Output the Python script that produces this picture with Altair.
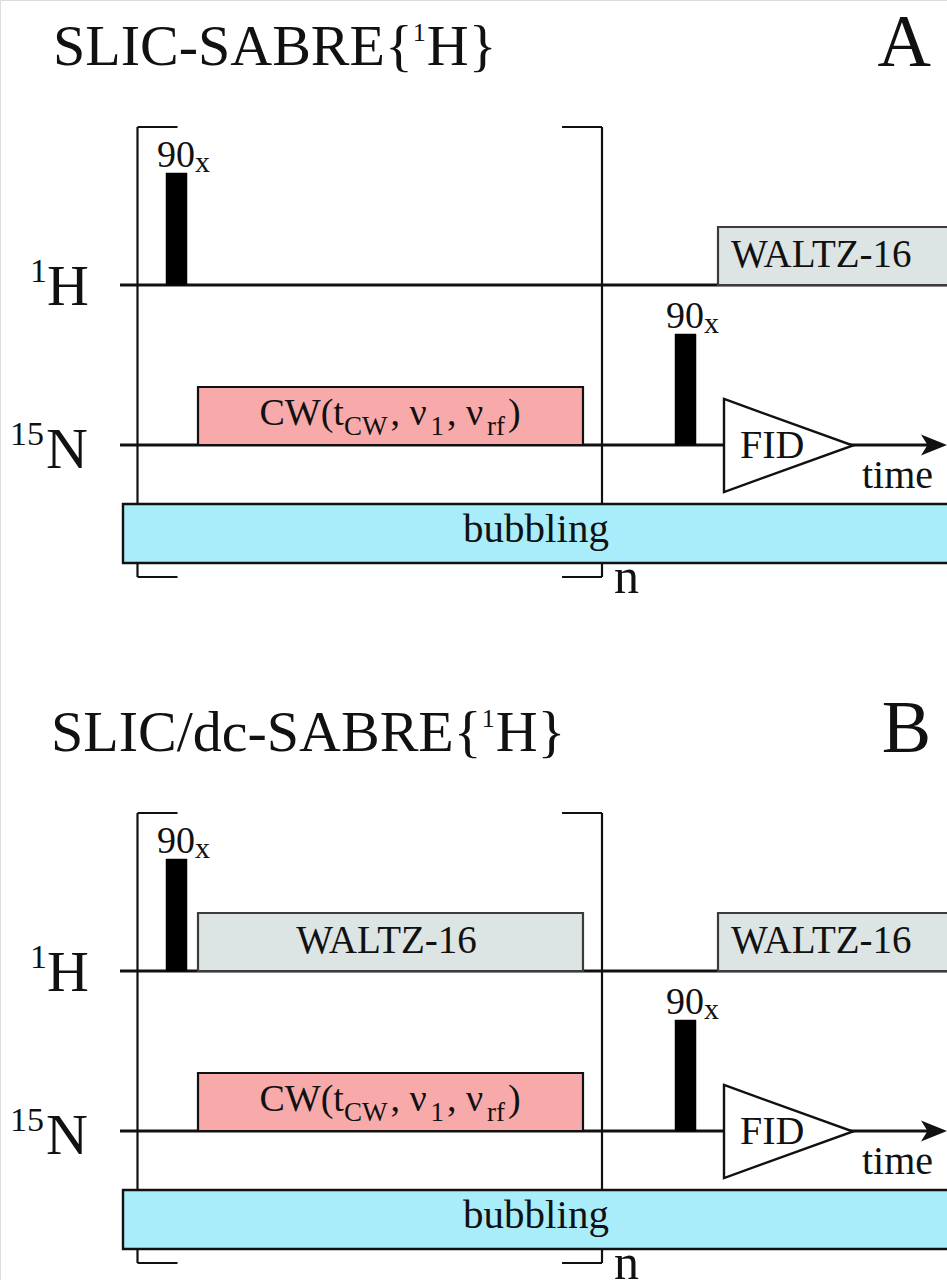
import altair as alt
import pandas as pd

W, H = 947, 1280
FONT = "Liberation Serif"

# ---------------- data (time axis = x, level axis = y, top-down units) ----------------
panel_ids = ["A", "B"]
panel_shift = [0, 686]
panel_titles = [["SLIC-SABRE{", "1", "H}"], ["SLIC/dc-SABRE{", "1", "H}"]]

chan_names = ["1H", "15N"]
chan_level = [285, 445]
chan_t0 = [120, 120]
chan_t1 = [947, 935]

pulse_chan = ["1H", "15N"]
pulse_t0 = [166, 675]
pulse_t1 = [187, 696]
pulse_top = [173, 334]

block_panel = ["A", "A", "B", "B", "B"]
block_chan = ["15N", "1H", "1H", "15N", "1H"]
block_kind = ["CW", "WALTZ", "WALTZ", "CW", "WALTZ"]
block_t0 = [198, 718, 198, 198, 718]
block_t1 = [583, 960, 583, 583, 960]
block_height = 58

bubble_t0, bubble_t1 = 123, 960
bubble_top, bubble_bot = 504, 563

loop_t0, loop_t1 = 137.5, 602
loop_top, loop_bot = 127, 577
loop_tick = 40

fid_t0, fid_t1 = 724, 853
fid_half = 46.5

fill_of = {"CW": "#f8a9aa", "WALTZ": "#dde4e4"}
stroke_of = {"CW": "#111111", "WALTZ": "#3c3c3c"}

# Times / Liberation Serif advance widths (per 1000 em)
ADV = {"S": 556, "L": 611, "I": 333, "C": 667, "-": 333, "A": 722, "B": 667, "R": 667,
       "E": 611, "{": 480, "}": 480, "H": 722, "/": 278, "d": 500, "c": 444, "1": 500,
       "9": 500, "0": 500, "x": 500, "W": 944, "(": 333, ")": 333, "t": 278, ",": 250,
       " ": 250, "ν": 500, "r": 333, "f": 333, "F": 556, "D": 722, "T": 611, "Z": 611,
       "6": 500, "N": 722, "5": 500, "n": 500, "b": 500, "u": 500, "l": 278, "i": 278,
       "g": 500, "m": 778, "e": 444}


def tw(s, fs):
    return sum(ADV.get(ch, 500) for ch in s) * fs / 1000.0


segs, rects, texts, tri, arrows = [], [], [], [], []
level = dict(zip(chan_names, chan_level))

for pid, off, title in zip(panel_ids, panel_shift, panel_titles):
    # bracket (loop n)
    for (x, x2, y, y2) in [
        (loop_t0, loop_t0, loop_top, loop_bot), (loop_t1, loop_t1, loop_top, loop_bot),
        (loop_t0, loop_t0 + loop_tick, loop_top, loop_top), (loop_t0, loop_t0 + loop_tick, loop_bot, loop_bot),
        (loop_t1 - loop_tick, loop_t1, loop_top, loop_top), (loop_t1 - loop_tick, loop_t1, loop_bot, loop_bot),
    ]:
        segs.append(dict(p=pid, x=x, x2=x2, y=y + off, y2=y2 + off, w=2.2, layer=0))
    # channel lines
    for c, lv, a, b in zip(chan_names, chan_level, chan_t0, chan_t1):
        segs.append(dict(p=pid, x=a, x2=b, y=lv + off, y2=lv + off, w=3.2, layer=1))
    # blocks
    for bp, bc, bk, a, b in zip(block_panel, block_chan, block_kind, block_t0, block_t1):
        if bp != pid:
            continue
        lv = level[bc] + off
        rects.append(dict(p=pid, x=a, x2=b, y=lv - block_height, y2=lv,
                          fill=fill_of[bk], stroke=stroke_of[bk], w=2.2))
        if bk == "WALTZ":
            fs = 39
            s = "WALTZ-16"
            left = a + 13 if b > W else (a + b) / 2 - tw(s, fs) / 2
            texts.append(dict(x=left, y=lv - 18, t=s, fs=fs))
        else:
            frags = [("CW(t", 38, 0), ("CW", 27, 10), (", ν", 38, 0), ("1", 27, 10),
                     (", ν", 38, 0), ("rf", 27, 10), (")", 38, 0)]
            total = sum(tw(s, f) for s, f, _ in frags) + 14
            cx = (a + b) / 2 - total / 2
            for s, f, dy in frags:
                texts.append(dict(x=cx, y=lv - 20 + dy, t=s, fs=f))
                cx += tw(s, f) + (3 if s in ("CW", "1", "rf") else 0) + (2 if s.startswith(",") else 0)
    # bubbling
    rects.append(dict(p=pid, x=bubble_t0, x2=bubble_t1, y=bubble_top + off, y2=bubble_bot + off,
                      fill="#aaedfa", stroke="#111111", w=2.4))
    texts.append(dict(x=536 - tw("bubbling", 41) / 2, y=542 + off, t="bubbling", fs=41))
    # pulses
    for c, a, b, top in zip(pulse_chan, pulse_t0, pulse_t1, pulse_top):
        rects.append(dict(p=pid, x=a, x2=b, y=top + off, y2=level[c] + off,
                          fill="#000000", stroke="#000000", w=0.5))
        texts.append(dict(x=a - 9, y=top - 6 + off, t="90", fs=38))
        texts.append(dict(x=a - 9 + tw("90", 38), y=top - 1 + off, t="x", fs=30))
    # FID triangle (centre of the acquisition window)
    nl = level["15N"] + off
    tri.append(dict(p=pid, x=(fid_t0 + fid_t1) / 2, y=nl + 0.5))
    texts.append(dict(x=fid_t0 + 16, y=nl + 13, t="FID", fs=40))
    texts.append(dict(x=862, y=nl + 43, t="time", fs=40))
    arrows.append(dict(p=pid, x=934, y=nl))
    # channel labels
    hl = level["1H"] + off
    texts.append(dict(x=30, y=hl - 3, t="1", fs=34))
    texts.append(dict(x=47, y=hl + 20, t="H", fs=58))
    texts.append(dict(x=10, y=nl, t="15", fs=34))
    texts.append(dict(x=46, y=nl + 23, t="N", fs=58))
    # loop count
    texts.append(dict(x=614, y=loop_bot + 16 + off, t="n", fs=50))
    # titles
    x0 = 53 if pid == "A" else 51
    base = 65 + off
    t_main, t_sup, t_end = title
    texts.append(dict(x=x0, y=base, t=t_main, fs=58))
    x1 = x0 + tw(t_main, 58)
    texts.append(dict(x=x1, y=base - 24, t=t_sup, fs=26))
    texts.append(dict(x=x1 + tw(t_sup, 26) + 1, y=base, t=t_end, fs=58))
    texts.append(dict(x=931 - tw(pid, 74), y=66 + off, t=pid, fs=74))

seg_df = pd.DataFrame(segs)
rect_df = pd.DataFrame(rects)
text_df = pd.DataFrame(texts)
tri_df = pd.DataFrame(tri)
arrow_df = pd.DataFrame(arrows)

xs = alt.Scale(domain=[0, W], range=[0, W], nice=False, zero=False)
ys = alt.Scale(domain=[0, H], range=[0, H], nice=False, zero=False)
X = lambda f: alt.X(f, type="quantitative", scale=xs, axis=None)
Y = lambda f: alt.Y(f, type="quantitative", scale=ys, axis=None)

brackets = alt.Chart(seg_df[seg_df.layer == 0]).mark_rule(color="#111111").encode(
    x=X("x"), x2="x2", y=Y("y"), y2="y2",
    strokeWidth=alt.StrokeWidth("w:Q", scale=None))

lines = alt.Chart(seg_df[seg_df.layer == 1]).mark_rule(color="#111111").encode(
    x=X("x"), x2="x2", y=Y("y"), y2="y2",
    strokeWidth=alt.StrokeWidth("w:Q", scale=None))

boxes = alt.Chart(rect_df).mark_rect().encode(
    x=X("x"), x2="x2", y=Y("y"), y2="y2",
    fill=alt.Fill("fill:N", scale=None),
    stroke=alt.Stroke("stroke:N", scale=None),
    strokeWidth=alt.StrokeWidth("w:Q", scale=None))

tri_w = fid_t1 - fid_t0
tri_ratio = 2 * fid_half / tri_w
triangle = alt.Chart(tri_df).mark_point(
    shape=f"M -1 -{tri_ratio:.3f} L 1 0 L -1 {tri_ratio:.3f} Z",
    filled=True, fill="white", stroke="#111111", strokeWidth=2.4, opacity=1,
    size=tri_w ** 2, strokeJoin="miter").encode(x=X("x"), y=Y("y"))

arrow = alt.Chart(arrow_df).mark_point(
    shape="M 1 0 L -1 -0.8 L -0.5 0 L -1 0.8 Z", filled=True, color="#111111",
    size=676, opacity=1).encode(x=X("x"), y=Y("y"))

labels = alt.Chart(text_df).mark_text(align="left", baseline="alphabetic", font=FONT,
                                      color="#111111").encode(
    x=X("x"), y=Y("y"), text="t:N", size=alt.Size("fs:Q", scale=None))

chart = alt.layer(brackets, lines, boxes, triangle, arrow, labels).properties(
    width=W, height=H, padding=0,
    autosize=alt.AutoSizeParams(type="none")
).configure_view(stroke=None).configure(background="white")

chart.save("out.html", embed_options={"renderer": "svg", "actions": False})
